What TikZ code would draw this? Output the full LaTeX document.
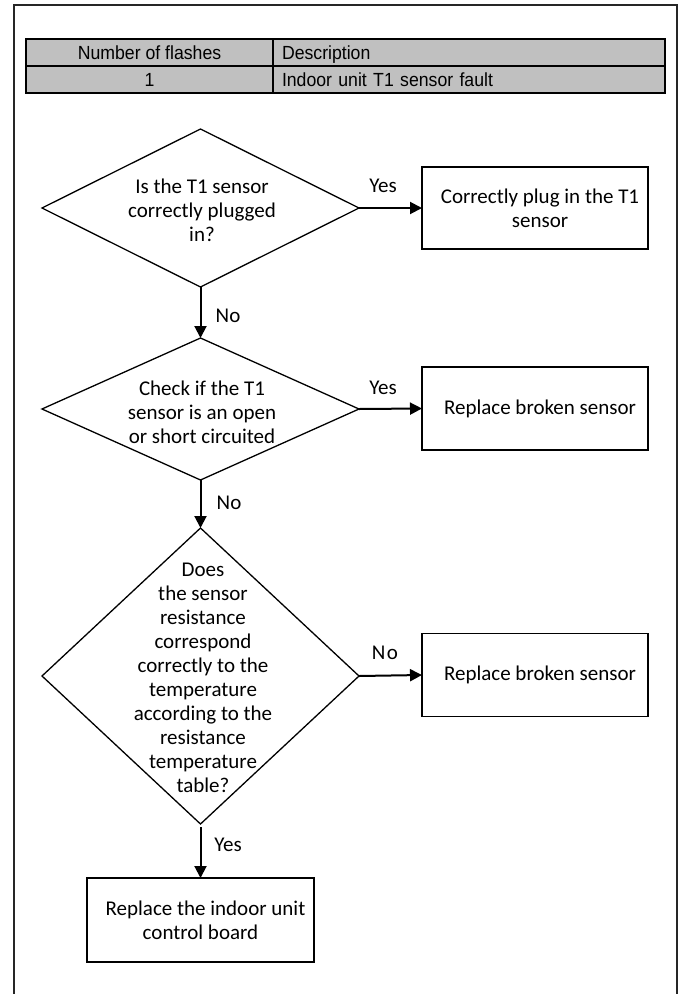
\documentclass[tikz,border=0pt]{standalone}
\usepackage{fontspec}
\setmainfont{Carlito}
\newfontfamily\tabfont[FakeStretch=0.93]{Liberation Sans}
\usetikzlibrary{shapes.geometric,arrows.meta}
\definecolor{tabgray}{HTML}{C0C0C0}
\tikzset{
  cell/.style={draw=black, line width=1.2pt, fill=tabgray, rectangle, minimum height=27pt, text height=20.5pt, text depth=6.5pt, inner ysep=0pt, inner xsep=0pt, outer sep=0pt, font=\tabfont\fontsize{19}{22}\selectfont},
  lcell/.style={cell, inner xsep=9pt, align=left},
  dia/.style={draw=black, line width=1.3pt, diamond, inner sep=0pt, outer sep=0pt},
  dtext/.style={align=center, inner sep=0pt, font=\fontsize{21}{24}\selectfont},
  box/.style={draw=black, line width=1.5pt, rectangle, inner sep=0pt, outer sep=0pt, minimum width=226pt, align=center, font=\fontsize{21}{24}\selectfont},
  lbl/.style={inner sep=0pt, font=\fontsize{21}{24}\selectfont},
  conn/.style={line width=2pt, -{Triangle[length=12pt,width=12pt]}},
}
\begin{document}
\begin{tikzpicture}[x=1pt,y=-1pt]
\useasboundingbox (0,0) rectangle (681,994);
% outer frame
\draw[line width=1.3pt, black!85] (14,994) -- (14,5) -- (677,5) -- (677,994);
% table
\node[cell, minimum width=247pt] (h1) at (149.5,52.5) {Number of flashes};
\node[lcell, text width=374pt] (h2) at (469,52.5) {Description};
\node[cell, minimum width=247pt] (r1) at (149.5,79.5) {1};
\node[lcell, text width=374pt] (r2) at (469,79.5) {Indoor unit T1 sensor fault};
% diamonds
\node[dia, minimum width=317pt, minimum height=158pt] (d1) at (200.5,208) {};
\node[dtext] (d1t) at (202,210) {Is the T1 sensor\\correctly plugged\\in?};
\node[dia, minimum width=317pt, minimum height=142pt] (d2) at (200.5,409) {};
\node[dtext] (d2t) at (202,412) {Check if the T1\\sensor is an open\\or short circuited};
\node[dia, minimum width=317pt, minimum height=296pt] (d3) at (200.5,676) {};
\node[dtext] (d3t) at (203,678) {Does\\the sensor\\resistance\\correspond\\correctly to the\\temperature\\according to the\\resistance\\temperature\\table?};
% boxes
\node[box, minimum height=82pt] (b1) at (535,208) {\hspace*{10pt}Correctly plug in the T1\\\hspace*{10pt}sensor};
\node[box, minimum height=83pt] (b2) at (535,408.5) {\hspace*{10pt}Replace broken sensor};
\node[box, minimum height=83pt] (b3) at (535,675) {\hspace*{10pt}Replace broken sensor};
\node[box, line width=1.8pt, minimum width=227pt, minimum height=84pt] (b4) at (200.5,920) {\hspace*{10pt}Replace the indoor unit\\control board};
% connectors
\draw[conn] (d1.east) -- (b1.west);
\draw[conn] (d2.east) -- (b2.west);
\draw[conn] (d3.east) -- (b3.west);
\draw[conn] (d1.south) -- (d2.north);
\draw[conn] (d2.south) -- (d3.north);
\draw[conn] ([yshift=-3pt]d3.south) -- (b4.north);
% labels
\node[lbl] (l1) at (383,186) {Yes};
\node[lbl] (l2) at (383,388) {Yes};
\node[lbl] (l3) at (385,653) {N\hspace{1.5pt}o};
\node[lbl] (l4) at (228,316) {No};
\node[lbl] (l5) at (229,503) {No};
\node[lbl] (l6) at (228,845) {Yes};
\end{tikzpicture}
\end{document}
